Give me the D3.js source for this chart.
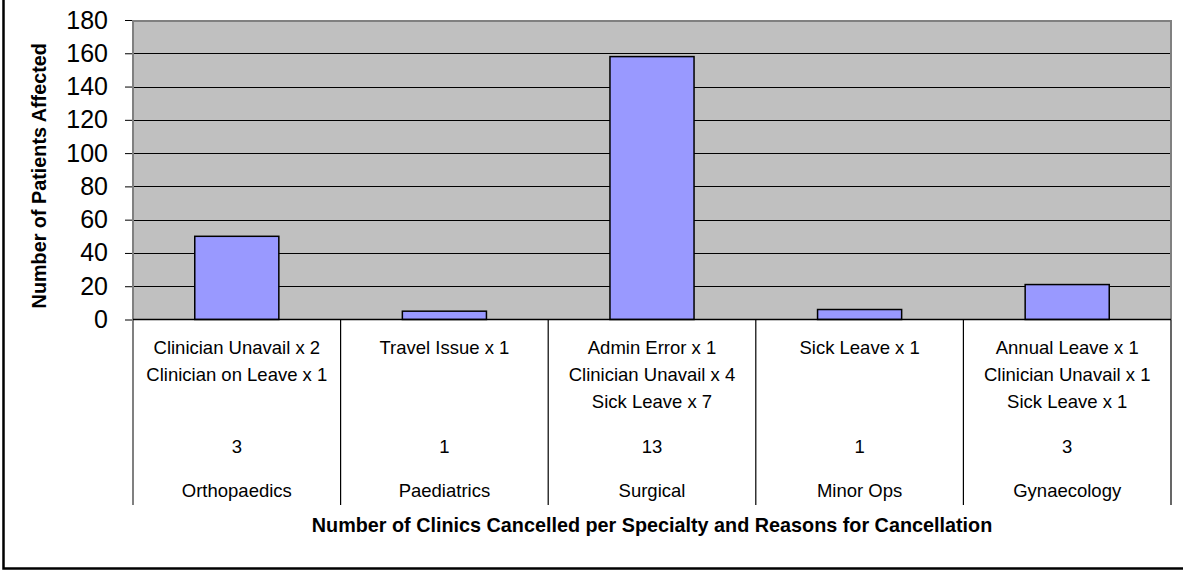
<!DOCTYPE html>
<html>
<head>
<meta charset="utf-8">
<script src="https://cdn.jsdelivr.net/npm/d3@7"></script>
<style>
  html, body { margin: 0; padding: 0; background: #ffffff; }
  svg { display: block; }
  text { font-family: "Liberation Sans", Arial, sans-serif; fill: #000; }
</style>
</head>
<body>
<svg id="chart" width="1183" height="572"></svg>
<script>
// Clinic cancellations by specialty
const specialties = ["Orthopaedics", "Paediatrics", "Surgical", "Minor Ops", "Gynaecology"];
const clinicsCancelled = [3, 1, 13, 1, 3];
const reasons = [
  ["Clinician Unavail x 2", "Clinician on Leave x 1"],
  ["Travel Issue x 1"],
  ["Admin Error x 1", "Clinician Unavail x 4", "Sick Leave x 7"],
  ["Sick Leave x 1"],
  ["Annual Leave x 1", "Clinician Unavail x 1", "Sick Leave x 1"]
];
const patientsAffected = [50, 5, 158, 6, 21];
const yTicks = [0, 20, 40, 60, 80, 100, 120, 140, 160, 180];

const svg = d3.select("#chart");
const plot = { left: 133, right: 1171, top: 20, bottom: 319.5 };
const tableBottom = 505;

const x = d3.scaleBand()
  .domain(d3.range(specialties.length))
  .range([plot.left, plot.right])
  .padding(0);
const barWidth = x.bandwidth() * 0.405;

const y = d3.scaleLinear()
  .domain([0, 180])
  .range([plot.bottom, plot.top]);

// outer frame
svg.append("rect")
  .attr("x", 3.5).attr("y", -10)
  .attr("width", 1200).attr("height", 578.5)
  .attr("fill", "none")
  .attr("stroke", "#000").attr("stroke-width", 2.5);

// plot background
svg.append("rect")
  .attr("x", plot.left).attr("y", plot.top)
  .attr("width", plot.right - plot.left)
  .attr("height", plot.bottom - plot.top)
  .attr("fill", "#c0c0c0");

// gridlines
svg.append("g")
  .selectAll("line")
  .data(yTicks.filter(t => t > 0 && t < 180))
  .join("line")
  .attr("x1", plot.left).attr("x2", plot.right)
  .attr("y1", d => Math.round(y(d)) + 0.5).attr("y2", d => Math.round(y(d)) + 0.5)
  .attr("stroke", "#000").attr("stroke-width", 1);

// plot border (top & right)
svg.append("path")
  .attr("d", `M${plot.left},${plot.top + 1}H${plot.right}V${plot.bottom}`)
  .attr("fill", "none")
  .attr("stroke", "#808080").attr("stroke-width", 2);

// bars
svg.append("g")
  .selectAll("rect")
  .data(patientsAffected)
  .join("rect")
  .attr("x", (d, i) => x(i) + (x.bandwidth() - barWidth) / 2)
  .attr("y", d => y(d))
  .attr("width", barWidth)
  .attr("height", d => y(0) - y(d))
  .attr("fill", "#9999ff")
  .attr("stroke", "#000").attr("stroke-width", 1.5);

// y axis
const yAxis = d3.axisLeft(y)
  .tickValues(yTicks)
  .tickSize(8)
  .tickPadding(17)
  .tickFormat(d3.format("d"));
const ga = svg.append("g")
  .attr("transform", `translate(${plot.left},0)`)
  .call(yAxis);
ga.select(".domain").remove();
ga.selectAll(".tick line").attr("stroke", "#000");
ga.selectAll(".tick text")
  .attr("font-size", 25)
  .attr("font-family", "'Liberation Sans', Arial, sans-serif")
  .attr("fill", "#000");
svg.append("line")
  .attr("x1", plot.left).attr("x2", plot.left)
  .attr("y1", plot.top).attr("y2", tableBottom)
  .attr("stroke", "#808080").attr("stroke-width", 2);

// baseline
svg.append("line")
  .attr("x1", plot.left).attr("x2", plot.right)
  .attr("y1", plot.bottom).attr("y2", plot.bottom)
  .attr("stroke", "#000").attr("stroke-width", 1.5);

// data table dividers
svg.append("g")
  .selectAll("line")
  .data(d3.range(1, specialties.length + 1))
  .join("line")
  .attr("x1", i => i < specialties.length ? x(i) : plot.right)
  .attr("x2", i => i < specialties.length ? x(i) : plot.right)
  .attr("y1", plot.bottom).attr("y2", tableBottom)
  .attr("stroke", "#000").attr("stroke-width", 1.2);

// data table text
const cells = svg.append("g")
  .selectAll("g")
  .data(specialties.map((s, i) => ({ s, i })))
  .join("g")
  .attr("transform", d => `translate(${x(d.i) + x.bandwidth() / 2},0)`);

cells.selectAll("text.reason")
  .data(d => reasons[d.i])
  .join("text")
  .attr("class", "reason")
  .attr("y", (d, j) => 354 + j * 27)
  .attr("text-anchor", "middle")
  .attr("font-size", 18.5)
  .text(d => d);

cells.append("text")
  .attr("y", 453)
  .attr("text-anchor", "middle")
  .attr("font-size", 18.5)
  .text(d => clinicsCancelled[d.i]);

cells.append("text")
  .attr("y", 497)
  .attr("text-anchor", "middle")
  .attr("font-size", 18.5)
  .text(d => d.s);

// axis titles
svg.append("text")
  .attr("x", (plot.left + plot.right) / 2)
  .attr("y", 532)
  .attr("text-anchor", "middle")
  .attr("font-size", 19.8)
  .attr("font-weight", "bold")
  .text("Number of Clinics Cancelled per Specialty and Reasons for Cancellation");

svg.append("text")
  .attr("transform", `translate(46,${(plot.top + plot.bottom) / 2 + 6}) rotate(-90)`)
  .attr("text-anchor", "middle")
  .attr("font-size", 19.8)
  .attr("font-weight", "bold")
  .text("Number of Patients Affected");
</script>
</body>
</html>
